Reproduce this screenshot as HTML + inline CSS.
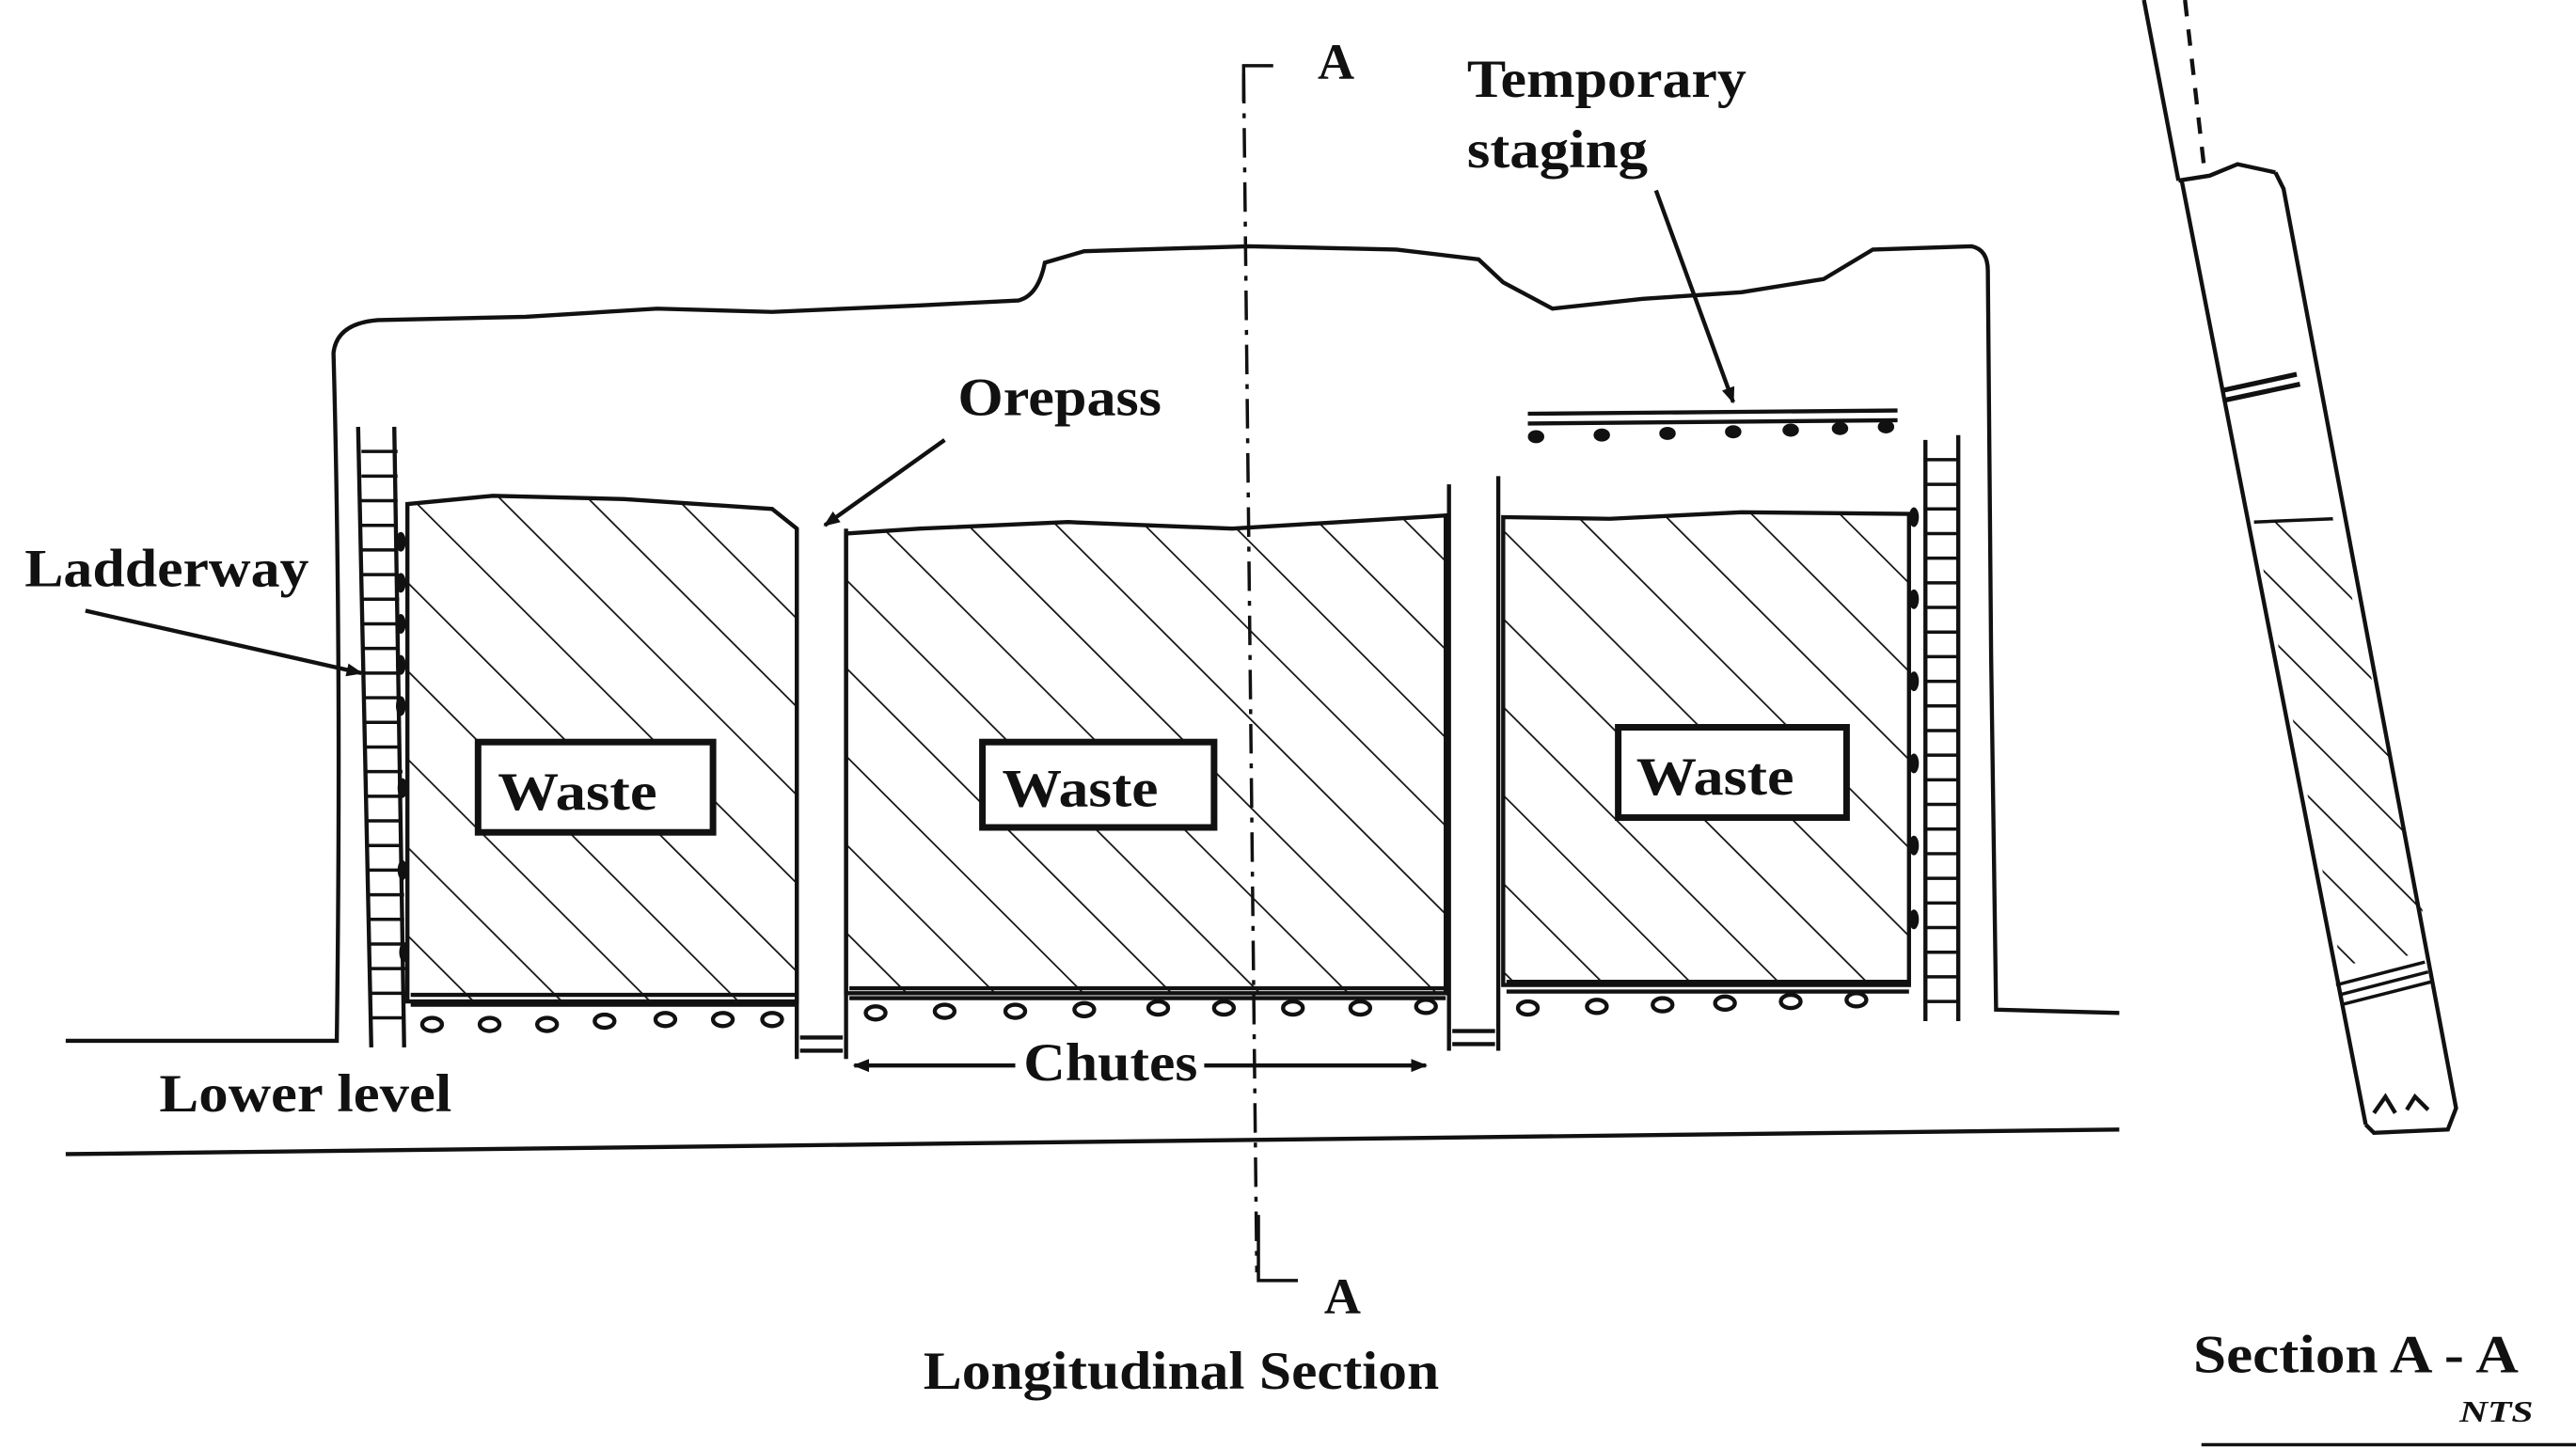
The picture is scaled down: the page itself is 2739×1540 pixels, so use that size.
<!DOCTYPE html>
<html><head><meta charset="utf-8"><style>
html,body{margin:0;padding:0;background:#fff;}
svg{display:block;}
text{font-family:"Liberation Serif",serif;font-weight:bold;fill:#111;}
</style></head><body>
<svg width="2739" height="1540" viewBox="0 0 1568 882" preserveAspectRatio="none" xmlns="http://www.w3.org/2000/svg">
<defs>
<pattern id="h" width="38" height="38" patternUnits="userSpaceOnUse" patternTransform="rotate(-45)">
<line x1="0" y1="0" x2="0" y2="38" stroke="#111" stroke-width="2"/>
</pattern>
<pattern id="h2" width="26" height="26" patternUnits="userSpaceOnUse" patternTransform="rotate(-45)">
<line x1="0" y1="0" x2="0" y2="26" stroke="#111" stroke-width="2"/>
</pattern>
<marker id="ar" markerWidth="10" markerHeight="10" refX="9" refY="5" orient="auto" markerUnits="userSpaceOnUse">
<path d="M0,1 L10,5 L0,9 z" fill="#111"/>
</marker>
</defs>
<g stroke="#111" stroke-width="2.5" fill="none">
<path d="M40,634 L205,634 Q208,400 203,215 Q205,197 230,195 L320,193 L400,188 L470,190 L560,186 L620,183 Q632,180 636,160 L660,153 L760,150 L850,152 L900,158 L915,172 L945,188 L1000,182 L1060,178 L1110,170 L1140,152 L1200,150 Q1210,152 1210,165 L1212,400 L1215,615 L1290,617"/>
<path d="M40,703 L1290,688"/>
<path d="M248,307 L300,302 L380,304 L470,310 L485,322 L485,610 L248,610 Z" fill="url(#h)"/>
<path d="M515,325 L560,322 L650,318 L750,322 L880,314 L880,605 L515,605 Z" fill="url(#h)"/>
<path d="M915,315 L980,316 L1060,312 L1162,313 L1162,600 L915,600 Z" fill="url(#h)"/>
<path d="M250,606 L485,606 M250,612 L485,612"/>
<path d="M517,602 L880,602 M517,608 L880,608"/>
<path d="M917,598 L1162,598 M917,604 L1162,604"/>
<path d="M485,322 L485,645 M515,322 L515,645 M487,632 L513,632 M487,640 L513,640"/>
<path d="M882,295 L882,640 M912,290 L912,640 M884,628 L910,628 M884,636 L910,636"/>
<path d="M218,260 L226,638 M240,260 L246,638"/>
<path d="M1172,268 L1172,622 M1192,265 L1192,622"/>
</g>
<g stroke="#111" stroke-width="2">
<path d="M220,275h22M220,290h22M220,305h22M220,320h22M220,335h22M220,350h22M221,365h22M221,380h22M221,395h22M222,410h22M222,425h22M222,440h22M222,455h22M223,470h22M223,485h22M223,500h22M223,515h22M224,530h22M224,545h22M224,560h22M225,575h22M225,590h22M225,605h22M226,620h20"/>
<path d="M1172,280h20M1172,295h20M1172,310h20M1172,325h20M1172,340h20M1172,355h20M1172,370h20M1172,385h20M1172,400h20M1172,415h20M1172,430h20M1172,445h20M1172,460h20M1172,475h20M1172,490h20M1172,505h20M1172,520h20M1172,535h20M1172,550h20M1172,565h20M1172,580h20M1172,595h20M1172,610h20"/>
</g>
<g fill="#111">
<ellipse cx="244" cy="330" rx="3" ry="6"/><ellipse cx="244" cy="355" rx="3" ry="6"/><ellipse cx="244" cy="380" rx="3" ry="6"/><ellipse cx="244" cy="405" rx="3" ry="6"/><ellipse cx="244" cy="430" rx="3" ry="6"/><ellipse cx="245" cy="480" rx="3" ry="6"/><ellipse cx="245" cy="530" rx="3" ry="6"/><ellipse cx="246" cy="580" rx="3" ry="6"/>
<ellipse cx="1165" cy="315" rx="3" ry="6"/><ellipse cx="1165" cy="365" rx="3" ry="6"/><ellipse cx="1165" cy="415" rx="3" ry="6"/><ellipse cx="1165" cy="465" rx="3" ry="6"/><ellipse cx="1165" cy="515" rx="3" ry="6"/><ellipse cx="1165" cy="560" rx="3" ry="6"/>
</g>
<g stroke="#111" stroke-width="2.5" fill="none">
<ellipse cx="263" cy="624" rx="6" ry="4"/><ellipse cx="298" cy="624" rx="6" ry="4"/><ellipse cx="333" cy="624" rx="6" ry="4"/><ellipse cx="368" cy="622" rx="6" ry="4"/><ellipse cx="405" cy="621" rx="6" ry="4"/><ellipse cx="440" cy="621" rx="6" ry="4"/><ellipse cx="470" cy="621" rx="6" ry="4"/>
<ellipse cx="533" cy="617" rx="6" ry="4"/><ellipse cx="575" cy="616" rx="6" ry="4"/><ellipse cx="618" cy="616" rx="6" ry="4"/><ellipse cx="660" cy="615" rx="6" ry="4"/><ellipse cx="705" cy="614" rx="6" ry="4"/><ellipse cx="745" cy="614" rx="6" ry="4"/><ellipse cx="787" cy="614" rx="6" ry="4"/><ellipse cx="828" cy="614" rx="6" ry="4"/><ellipse cx="868" cy="613" rx="6" ry="4"/>
<ellipse cx="930" cy="614" rx="6" ry="4"/><ellipse cx="972" cy="613" rx="6" ry="4"/><ellipse cx="1012" cy="612" rx="6" ry="4"/><ellipse cx="1050" cy="611" rx="6" ry="4"/><ellipse cx="1090" cy="610" rx="6" ry="4"/><ellipse cx="1130" cy="609" rx="6" ry="4"/>
<path d="M930,252 L1155,250 M930,258 L1155,256" stroke-width="2.5"/>
</g>
<g fill="#111">
<ellipse cx="935" cy="266" rx="5" ry="4"/><ellipse cx="975" cy="265" rx="5" ry="4"/><ellipse cx="1015" cy="264" rx="5" ry="4"/><ellipse cx="1055" cy="263" rx="5" ry="4"/><ellipse cx="1090" cy="262" rx="5" ry="4"/><ellipse cx="1120" cy="261" rx="5" ry="4"/><ellipse cx="1148" cy="260" rx="5" ry="4"/>
</g>
<g stroke="#111" stroke-width="4" fill="#fff">
<rect x="291" y="452" width="143" height="55"/>
<rect x="598" y="452" width="141" height="52"/>
<rect x="985" y="443" width="139" height="55"/>
</g>
<text x="303" y="493" font-size="33" textLength="97" lengthAdjust="spacingAndGlyphs">Waste</text>
<text x="610" y="491" font-size="33" textLength="95" lengthAdjust="spacingAndGlyphs">Waste</text>
<text x="996" y="484" font-size="33" textLength="96" lengthAdjust="spacingAndGlyphs">Waste</text>
<g stroke="#111" stroke-width="2" fill="none">
<path d="M757,45 L765,775" stroke-dasharray="18,6,3,6"/>
<path d="M757,62 L757,40 L775,40"/>
<path d="M766,740 L766,780 L790,780"/>
</g>
<g stroke="#111" stroke-width="2.5" fill="none">
<path d="M52,372 L220,410" marker-end="url(#ar)"/>
<path d="M575,268 L502,320" marker-end="url(#ar)"/>
<path d="M1008,116 L1055,245" marker-end="url(#ar)"/>
<path d="M618,649 L520,649" marker-end="url(#ar)"/>
<path d="M733,649 L868,649" marker-end="url(#ar)"/>
</g>
<text x="802" y="48" font-size="31">A</text>
<text x="806" y="800" font-size="31">A</text>
<text x="893" y="59" font-size="33" textLength="170" lengthAdjust="spacingAndGlyphs">Temporary</text>
<text x="893" y="102" font-size="33" textLength="110" lengthAdjust="spacingAndGlyphs">staging</text>
<text x="583" y="253" font-size="33" textLength="124" lengthAdjust="spacingAndGlyphs">Orepass</text>
<text x="15" y="357" font-size="33" textLength="173" lengthAdjust="spacingAndGlyphs">Ladderway</text>
<text x="97" y="677" font-size="33" textLength="178" lengthAdjust="spacingAndGlyphs">Lower level</text>
<text x="623" y="658" font-size="33" textLength="106" lengthAdjust="spacingAndGlyphs">Chutes</text>
<text x="562" y="846" font-size="33" textLength="314" lengthAdjust="spacingAndGlyphs">Longitudinal Section</text>
<text x="1335" y="836" font-size="33" textLength="198" lengthAdjust="spacingAndGlyphs">Section A - A</text>
<text x="1497" y="866" font-size="18" font-style="italic" font-weight="normal" textLength="45" lengthAdjust="spacingAndGlyphs">NTS</text>
<path d="M1340,880 L1568,880" stroke="#111" stroke-width="2"/>
<g stroke="#111" stroke-width="2.5" fill="none">
<path d="M1305,0 L1326,110"/>
<path d="M1330,0 L1342,105" stroke-dasharray="10,8"/>
<path d="M1372,318 L1420,316 L1450,440 L1480,580 L1425,588 Z" fill="url(#h2)" stroke="none"/>
<path d="M1328,110 L1440,685 M1326,110 L1345,107 L1362,100 L1385,105 M1385,105 L1390,115 L1495,675 L1490,688 L1445,690 L1440,685"/>
<path d="M1372,318 L1420,316" stroke-width="2"/>
<path d="M1352,238 L1398,228 M1353,244 L1400,234" stroke-width="3"/>
<path d="M1422,600 L1476,586 M1424,606 L1478,592 M1425,612 L1480,598" stroke-width="2"/>
<path d="M1445,678 L1452,668 L1458,678 M1465,676 L1470,668 L1478,676"/>
</g>
</svg>
</body></html>
